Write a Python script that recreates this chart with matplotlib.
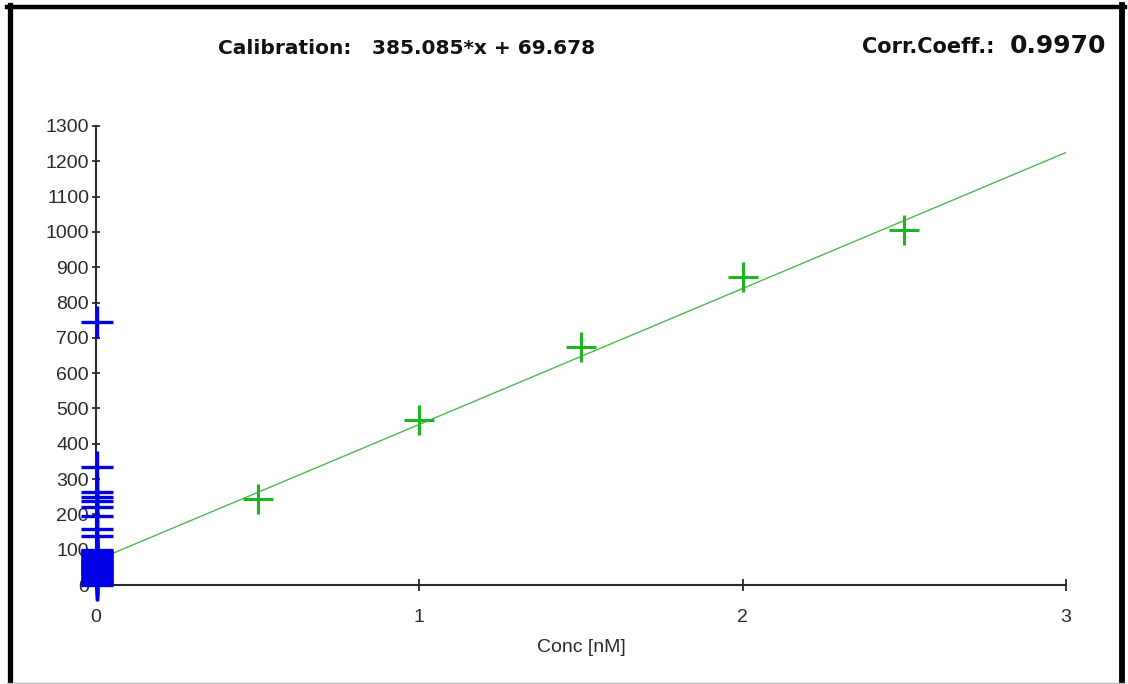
import matplotlib
matplotlib.use("Agg")
import matplotlib.pyplot as plt
from matplotlib.lines import Line2D

# calibration standards (green) and samples at ~0 conc (blue)
std_conc = [0.5, 1.0, 1.5, 2.0, 2.5]
std_resp = [244, 467, 674, 872, 1005]

smp_conc = [0.004] * 43
smp_resp = [745, 334, 263, 250, 238, 222, 196, 160, 140,
            0, 3, 6, 9, 12, 15, 18, 21, 24, 27, 30, 33, 36, 39, 42, 45,
            48, 51, 54, 57, 60, 63, 66, 69, 72, 75, 78, 81, 84, 87, 90, 93, 96, 99]

SLOPE = 385.085
INTERCEPT = 69.678
CORR = 0.9970
fit_x = [0.0, 3.0]

x_ticks = [0, 1, 2, 3]
y_ticks = list(range(0, 1301, 100))

INK = "#2b2b2b"
GREEN = "#1fb51f"
LINEG = "#4cb84c"
BLUE = "#0000e8"

W, H = 1128, 684
fig = plt.figure(figsize=(W / 100, H / 100), dpi=100, facecolor="white")
ax = fig.add_axes([96 / W, 1 - 585 / H, (1066 - 96) / W, (585 - 126) / H])

fit_y = [SLOPE * x + INTERCEPT for x in fit_x]
ax.plot(fit_x, fit_y, color=LINEG, lw=1.0, zorder=2)
ax.plot(std_conc, std_resp, ls="none", marker="+", ms=21, mew=2.2,
        color=GREEN, zorder=3)
ax.plot(smp_conc, smp_resp, ls="none", marker="+", ms=23, mew=2.4,
        color=BLUE, zorder=4, clip_on=False)

ax.set_xlim(0, 3)
ax.set_ylim(0, 1300)
ax.set_xticks(x_ticks)
ax.set_yticks(y_ticks)
for s in ("top", "right"):
    ax.spines[s].set_visible(False)
for s in ("left", "bottom"):
    ax.spines[s].set_color(INK)
    ax.spines[s].set_linewidth(1.5)
ax.tick_params(axis="y", direction="inout", length=6, width=1.3, pad=2,
               colors=INK, labelsize=14)
ax.tick_params(axis="x", direction="inout", length=8, width=1.3, pad=13,
               colors=INK, labelsize=14)
for lab in ax.get_xticklabels() + ax.get_yticklabels():
    lab.set_fontfamily("Liberation Sans")
ax.set_xlabel("Conc [nM]", fontsize=14, family="Liberation Sans",
              color=INK, labelpad=10)

# header texts
fig.text(218 / W, 1 - 48 / H, "Calibration:", fontsize=14.5, weight="bold",
         color="#111111", ha="left", va="center")
fig.text(372 / W, 1 - 48 / H, f"{SLOPE:.3f}*x + {INTERCEPT:.3f}", fontsize=14.5,
         weight="bold", color="#111111", ha="left", va="center")
fig.text(862 / W, 1 - 47 / H, "Corr.Coeff.:", fontsize=15, weight="bold",
         color="#111111", ha="left", va="center")
fig.text(1010 / W, 1 - 46 / H, f"{CORR:.4f}", fontsize=18, weight="bold",
         color="#111111", ha="left", va="center")

# outer frame
fig.add_artist(Line2D([9.5 / W, 9.5 / W], [0, 1 - 5 / H], color="black",
                      lw=3.8, transform=fig.transFigure))
fig.add_artist(Line2D([7 / W, 1125 / W], [1 - 7 / H, 1 - 7 / H], color="black",
                      lw=3.2, transform=fig.transFigure))
fig.add_artist(Line2D([1122 / W, 1122 / W], [0, 1 - 5 / H], color="black",
                      lw=4.2, transform=fig.transFigure))
fig.add_artist(Line2D([7 / W, 1125 / W], [1 / H, 1 / H], color="#bbbbbb",
                      lw=1.0, transform=fig.transFigure))

fig.savefig("out.png", dpi=100, facecolor="white")
